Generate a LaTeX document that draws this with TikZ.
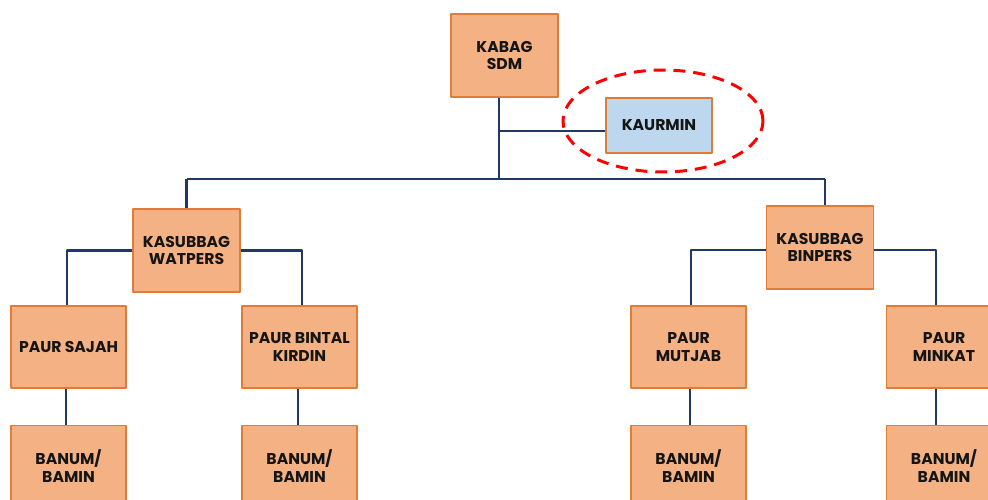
\documentclass[tikz,border=0pt]{standalone}
\usepackage{fontspec}
\setmainfont{Poppins}
\usetikzlibrary{positioning,shapes.geometric}
\definecolor{unitfill}{HTML}{F4B183}
\definecolor{unitedge}{HTML}{E07B39}
\definecolor{stafffill}{HTML}{BDD7EE}
\definecolor{unittext}{HTML}{151515}
\definecolor{linkblue}{HTML}{203864}
\tikzset{
  unit/.style={draw=unitedge, fill=unitfill, line width=0.8pt, inner sep=0pt, align=center,
    text=unittext, font=\fontsize{8.9}{10.2}\selectfont\bfseries},
  head/.style={unit, minimum width=2.14cm, minimum height=1.66cm},
  staff/.style={unit, fill=stafffill, minimum width=2.12cm, minimum height=1.10cm},
  post/.style={unit, minimum width=2.30cm, minimum height=1.64cm},
  link/.style={draw=linkblue, line width=1.3pt},
}
\begin{document}
\begin{tikzpicture}[x=0.02cm, y=-0.02cm, line join=round]
	\useasboundingbox (0,0) rectangle (988,500);
	\clip (0,0) rectangle (988,500);
	% top
	\node[head] (kabag) at (504.5,55.5) {KABAG\\SDM};
	\node[staff] (kaurmin) at (659,125.5) {KAURMIN};
	\node[ellipse, draw=red, line width=1.7pt, dash pattern=on 6.8pt off 4.5pt,
		minimum width=4cm, minimum height=2.04cm] (focus) at (663,121) {};
	\coordinate (trunk) at (499,179);
	% sub sections
	\node[head] (watpers) at (186.5,250.5) {KASUBBAG\\WATPERS};
	\node[head] (binpers) at (820,247.5) {KASUBBAG\\BINPERS};
	\coordinate (drop) at ([xshift=0.1cm]binpers.north);
	\node[post] (sajah) at (68.5,347) {PAUR SAJAH};
	\node[post] (bintal) at (299.5,347) {PAUR BINTAL\\KIRDIN};
	\node[post] (mutjab) at (688.5,347) {PAUR\\MUTJAB};
	\node[post] (minkat) at (944,347) {PAUR\\MINKAT};
	% links
	\draw[link] (kabag.south -| trunk) -- (trunk);
	\draw[link] ([yshift=-0.11cm]kaurmin.west -| trunk) -- ([yshift=-0.11cm]kaurmin.west);
	\draw[link] (watpers.north |- trunk) -- (drop |- trunk);
	\draw[link] (watpers.north |- trunk) -- (watpers.north);
	\draw[link] (drop |- trunk) -- (drop);
	\draw[link] (watpers.west) -| ([xshift=-0.03cm]sajah.north);
	\draw[link] (watpers.east) -| ([xshift=0.05cm]bintal.north);
	\draw[link] ([yshift=-0.05cm]binpers.west) -| ([xshift=0.05cm]mutjab.north);
	\draw[link] ([yshift=-0.05cm]binpers.east) -| ([xshift=-0.16cm]minkat.north);
	% staff under each paur
	\foreach \p/\n/\s in {sajah/1/-2.5, bintal/2/-1.5, mutjab/3/1.5, minkat/4/-8} {
		\node[post, below=0.72cm of \p] (banum\n) {BANUM/\\BAMIN};
		\draw[link] ([xshift=\s*0.02cm]\p.south) -- ([xshift=\s*0.02cm]\p.south |- banum\n.north);
	}
\end{tikzpicture}
\end{document}
